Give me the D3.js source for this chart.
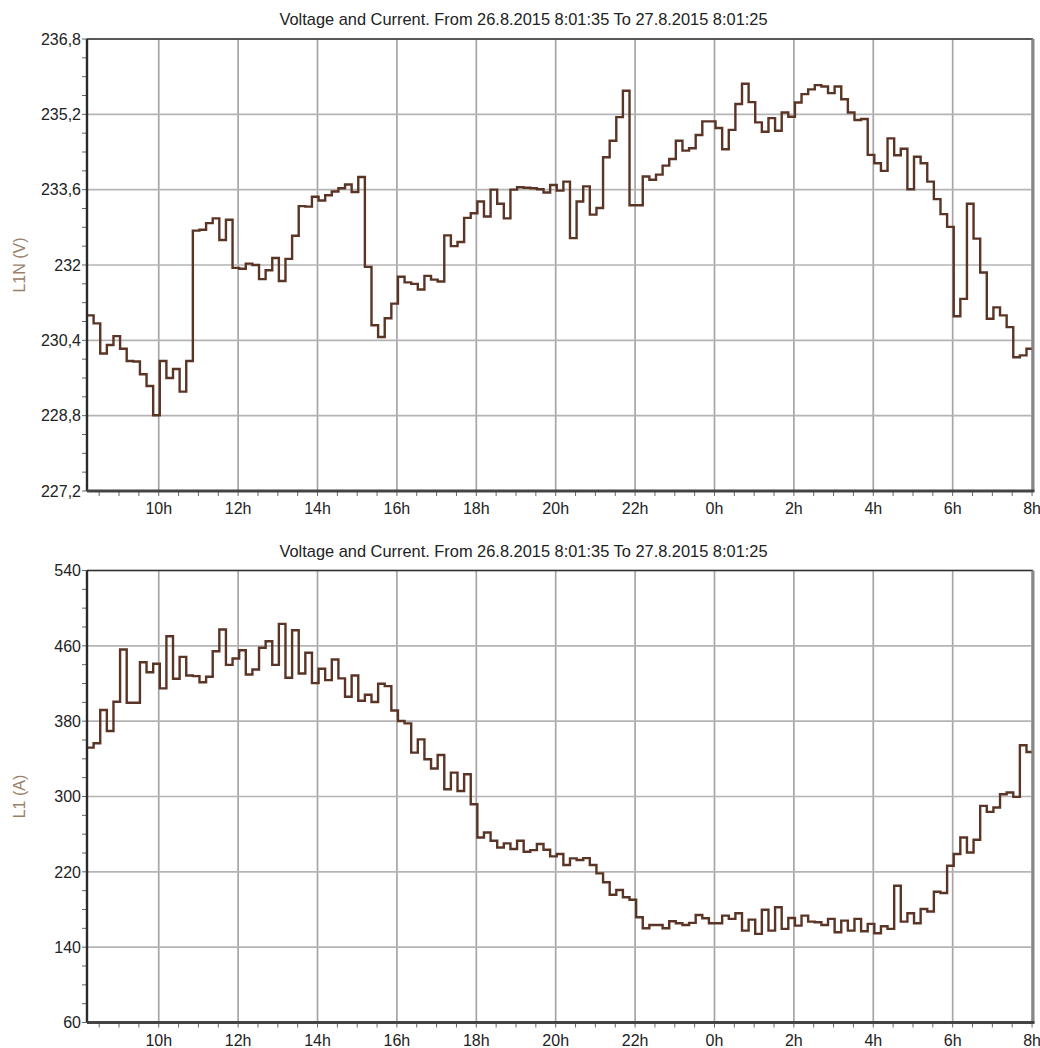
<!DOCTYPE html>
<html>
<head>
<meta charset="utf-8">
<script src="https://cdn.jsdelivr.net/npm/d3@7"></script>
<style>
body { margin: 0; background: #fff; }
text { font-family: "Liberation Sans", Arial, sans-serif; }
</style>
</head>
<body>
<svg id="chart" width="1040" height="1048"></svg>
<script>
// 10 minute values, the first one starts 26.8.2015 8:11:35
let voltage = [
  230.93, 230.76, 230.12, 230.30, 230.49, 230.22, 229.96, 229.95, 229.68, 229.43,
  228.81, 229.96, 229.60, 229.79, 229.31, 229.96, 232.73, 232.75, 232.89, 232.99,
  232.53, 232.96, 231.94, 231.92, 232.03, 232.00, 231.70, 231.89, 232.15, 231.66,
  232.13, 232.62, 233.25, 233.24, 233.45, 233.37, 233.48, 233.56, 233.63, 233.71,
  233.55, 233.87, 231.96, 230.72, 230.47, 230.87, 231.18, 231.75, 231.63, 231.60,
  231.48, 231.77, 231.69, 231.65, 232.63, 232.40, 232.49, 233.00, 233.10, 233.35,
  233.03, 233.60, 233.30, 232.99, 233.60, 233.65, 233.64, 233.63, 233.61, 233.54,
  233.70, 233.58, 233.77, 232.57, 233.35, 233.67, 233.07, 233.21, 234.29, 234.64,
  235.14, 235.70, 233.27, 233.27, 233.88, 233.81, 233.92, 234.11, 234.25, 234.64,
  234.43, 234.48, 234.76, 235.05, 235.05, 234.91, 234.46, 234.87, 235.42, 235.85,
  235.46, 235.03, 234.83, 235.12, 234.85, 235.24, 235.15, 235.45, 235.63, 235.73,
  235.82, 235.79, 235.65, 235.79, 235.52, 235.24, 235.08, 235.10, 234.34, 234.16,
  234.00, 234.69, 234.33, 234.47, 233.61, 234.30, 234.16, 233.77, 233.40, 233.08,
  232.81, 230.91, 231.28, 233.30, 232.56, 231.84, 230.86, 231.10, 230.93, 230.68,
  230.04, 230.08, 230.22
]

let current = [
  351.9, 356.5, 391.8, 369.5, 400.6, 456.1, 399.6, 399.6, 442.6, 432.0,
  440.9, 414.8, 470.2, 425.0, 448.3, 428.5, 427.8, 421.4, 427.1, 454.3,
  477.3, 439.8, 446.5, 455.3, 429.6, 434.9, 457.9, 464.9, 439.8, 483.3,
  426.1, 476.5, 430.6, 452.6, 420.4, 435.6, 423.6, 445.5, 425.4, 406.0,
  428.5, 401.7, 408.1, 400.3, 419.7, 417.2, 391.4, 380.1, 377.7, 346.6,
  360.7, 339.5, 329.7, 344.1, 307.7, 325.4, 305.9, 323.6, 291.8, 256.5,
  261.8, 253.0, 245.9, 250.2, 244.2, 253.0, 241.3, 243.1, 249.5, 243.4,
  236.4, 238.9, 227.2, 234.3, 232.5, 234.6, 227.2, 218.4, 208.9, 195.7,
  200.7, 193.0, 190.4, 171.8, 160.1, 163.6, 163.6, 160.1, 167.5, 165.4,
  163.6, 165.8, 174.2, 170.7, 165.4, 165.4, 173.5, 170.0, 176.0, 157.6,
  169.3, 154.1, 179.8, 157.6, 182.4, 159.4, 171.0, 162.9, 173.5, 167.1,
  166.5, 163.6, 170.0, 155.9, 168.2, 157.6, 170.0, 156.9, 164.7, 154.8,
  162.2, 159.4, 205.3, 167.1, 176.0, 165.4, 180.6, 177.8, 198.9, 197.5,
  226.5, 238.9, 256.5, 240.6, 254.0, 290.0, 283.7, 288.3, 302.4, 304.2,
  299.6, 354.4, 347.3
]

let voltTicks = [227.2, 228.8, 230.4, 232, 233.6, 235.2, 236.8]
let currTicks = [60, 140, 220, 300, 380, 460, 540]
let titleText = 'Voltage and Current. From 26.8.2015 8:01:35 To 27.8.2015 8:01:25'

let startTime = new Date(2015, 7, 26, 8, 11, 35)
let endTime = new Date(2015, 7, 27, 8, 1, 25)
let stepMinutes = 10

// layout
let left = 87, right = 1033
let plotH = 452
let panelTops = [39, 570.5]

let svg = d3.select('#chart')
let x = d3.scaleTime().domain([startTime, endTime]).range([left, right])

function fmtTick(v) {
    return String(Math.round(v * 10) / 10).replace('.', ',')
}

function drawPanel(top, values, ticks, label, idx) {
    let bottom = top + plotH
    let y = d3.scaleLinear().domain([ticks[0], ticks[ticks.length - 1]]).range([bottom, top])
    let g = svg.append('g')

    // title
    g.append('text')
    .attr('x', 523.5)
    .attr('y', top - 14)
    .attr('text-anchor', 'middle')
    .attr('font-size', '16.4px')
    .attr('fill', '#222')
    .text(titleText)

    // grid
    let hours = x.ticks(d3.timeHour.every(2))
    g.selectAll('.vg').data(hours).enter().append('line')
    .attr('x1', d => x(d)).attr('x2', d => x(d))
    .attr('y1', top).attr('y2', bottom)
    .attr('stroke', '#a6a6a6').attr('stroke-width', 1.7)

    g.selectAll('.hg').data(ticks).enter().append('line')
    .attr('x1', left).attr('x2', right)
    .attr('y1', d => y(d)).attr('y2', d => y(d))
    .attr('stroke', '#b4b4b4').attr('stroke-width', 1.7)

    // minor ticks
    let halfHours = x.ticks(d3.timeMinute.every(30))
    g.selectAll('.xt').data(halfHours).enter().append('line')
    .attr('x1', d => x(d)).attr('x2', d => x(d))
    .attr('y1', bottom).attr('y2', bottom + 5)
    .attr('stroke', '#666').attr('stroke-width', 1)

    let sub = (ticks[1] - ticks[0]) / 4
    let minorY = d3.range(0, (ticks.length - 1) * 4 + 1).map(i => ticks[0] + i * sub)
    g.selectAll('.yt').data(minorY).enter().append('line')
    .attr('x1', left - 5).attr('x2', left)
    .attr('y1', d => y(d)).attr('y2', d => y(d))
    .attr('stroke', '#666').attr('stroke-width', 1)

    // data line
    let pts = values.map((v, i) => ({t: d3.timeMinute.offset(startTime, i * stepMinutes), v: v}))
    pts.push({t: d3.timeMinute.offset(startTime, values.length * stepMinutes), v: values[values.length - 1]})

    svg.append('clipPath').attr('id', 'clip' + idx)
    .append('rect').attr('x', left).attr('y', top).attr('width', right - left).attr('height', plotH)

    let line = d3.line().x(d => x(d.t)).y(d => y(d.v)).curve(d3.curveStepAfter)
    g.append('path')
    .datum(pts)
    .attr('clip-path', `url(#clip${idx})`)
    .attr('d', line)
    .attr('fill', 'none')
    .attr('stroke', '#5a3526')
    .attr('stroke-width', 2.4)
    .attr('stroke-linejoin', 'miter')

    // frame
    g.append('line').attr('x1', left).attr('x2', right).attr('y1', top).attr('y2', top)
    .attr('stroke', '#333').attr('stroke-width', 1.5)
    g.append('line').attr('x1', right).attr('x2', right).attr('y1', top).attr('y2', bottom)
    .attr('stroke', '#888').attr('stroke-width', 3)
    g.append('line').attr('x1', left).attr('x2', left).attr('y1', top).attr('y2', bottom)
    .attr('stroke', '#2a2a2a').attr('stroke-width', 2.4)
    g.append('line').attr('x1', left).attr('x2', right + 1.5).attr('y1', bottom).attr('y2', bottom)
    .attr('stroke', '#444').attr('stroke-width', 3)

    // tick labels
    g.selectAll('.yl').data(ticks).enter().append('text')
    .attr('x', left - 6)
    .attr('y', d => y(d))
    .attr('dy', '0.36em')
    .attr('text-anchor', 'end')
    .attr('font-size', '16px')
    .attr('fill', '#222')
    .text(d => fmtTick(d))

    g.selectAll('.xl').data(hours).enter().append('text')
    .attr('x', d => x(d))
    .attr('y', bottom + 23)
    .attr('text-anchor', 'middle')
    .attr('font-size', '16px')
    .attr('fill', '#222')
    .text(d => d.getHours() + 'h')

    // axis title
    g.append('text')
    .attr('transform', `translate(25, ${top + plotH / 2}) rotate(-90)`)
    .attr('text-anchor', 'middle')
    .attr('font-size', '16px')
    .attr('fill', '#9a8068')
    .text(label)
}

drawPanel(panelTops[0], voltage, voltTicks, 'L1N (V)', 0)
drawPanel(panelTops[1], current, currTicks, 'L1 (A)', 1)
</script>
</body>
</html>
